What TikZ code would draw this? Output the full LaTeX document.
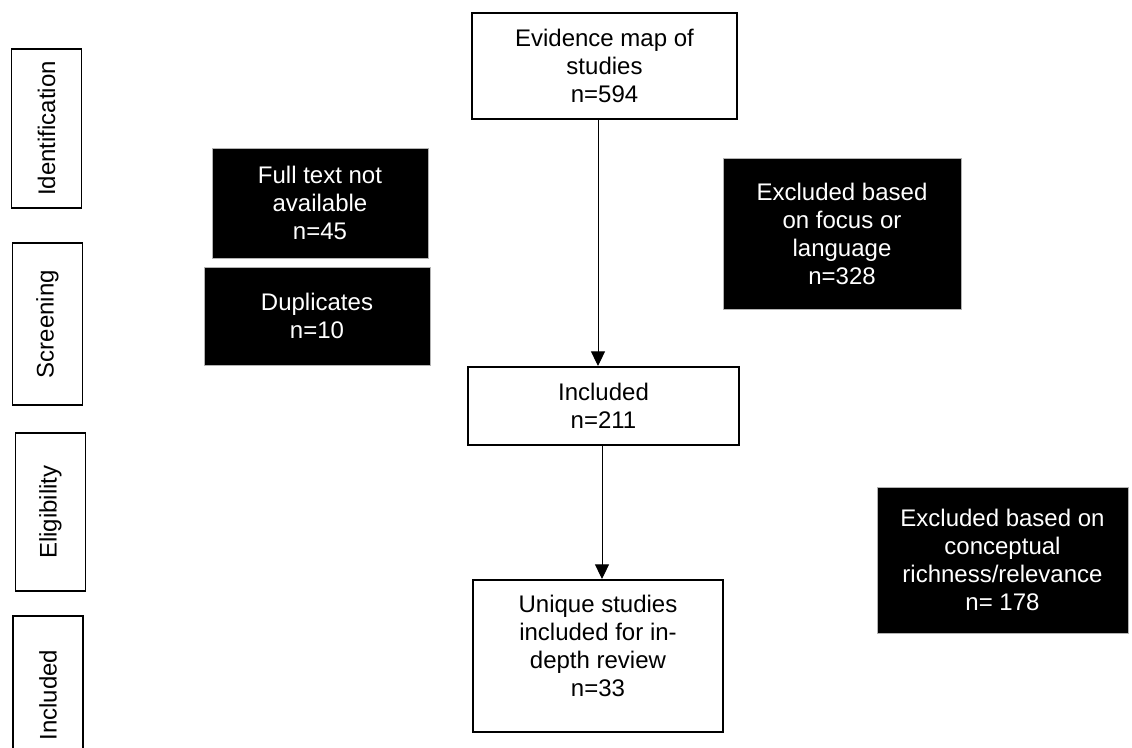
\documentclass[tikz,border=0pt]{standalone}
\usepackage{fontspec}
\setmainfont{Liberation Sans}
\usetikzlibrary{arrows.meta}

\tikzset{
    flowtext/.style={font=\fontsize{18}{21}\selectfont, align=center, inner sep=0pt},
    stagebox/.style={flowtext, draw, line width=1.2pt, rotate=90, minimum height=52.5pt},
    whitebox/.style={flowtext, draw, line width=1.5pt},
    blackbox/.style={flowtext, draw=gray!60, fill=black, text=white},
    flowarrow/.style={-{Triangle[width=10.5pt,length=11pt]}, line width=0.75pt}
}

\begin{document}
\begin{tikzpicture}[x=0.75pt,y=-0.75pt]
    \useasboundingbox (0,0) rectangle (1132,747);

    % stages
    \node[stagebox, minimum width=119.25pt] (identification) at (46.5,128.5) {Identification};
    \node[stagebox, minimum width=121.5pt] (screening) at (47.5,324) {Screening};
    \node[stagebox, minimum width=118.5pt] (eligibility) at (50.5,512) {Eligibility};
    \node[stagebox, minimum width=118.5pt] (included) at (48,695) {Included};

    % main flow
    \node[whitebox, minimum width=198.75pt, minimum height=79.5pt] (evidence) at (604.5,66) {Evidence map of\\studies\\n=594};
    \node[whitebox, minimum width=203.25pt, minimum height=58.5pt] (incl) at (603.5,406) {Included\\n=211};
    \node[whitebox, minimum width=187.5pt, minimum height=114pt] (unique) at (598,656) {Unique studies\\included for in-\\depth review\\n=33\\[-6pt]};

    % exclusions
    \node[blackbox, minimum width=162pt, minimum height=82.5pt] (fulltext) at (320,203) {Full text not\\available\\n=45};
    \node[blackbox, minimum width=169.5pt, minimum height=73.5pt] (duplicates) at (317,316) {Duplicates\\n=10};
    \node[blackbox, minimum width=178.5pt, minimum height=113.25pt] (exfocus) at (842,233.5) {Excluded based\\on focus or\\language\\n=328};
    \node[blackbox, minimum width=188.25pt, minimum height=109.5pt] (exrelevance) at (1002.5,560) {Excluded based on\\conceptual\\richness/relevance\\n= 178};

    \draw[flowarrow] (598,0 |- evidence.south) -- (598,0 |- incl.north);
    \draw[flowarrow] (602,0 |- incl.south) -- (602,0 |- unique.north);
\end{tikzpicture}
\end{document}
